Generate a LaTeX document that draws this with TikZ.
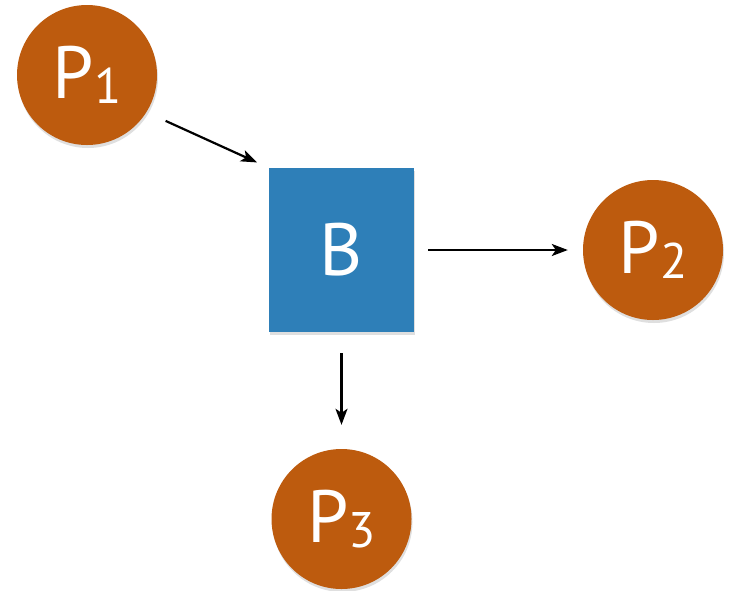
\documentclass[tikz,border=0pt]{standalone}
\usepackage{fontspec}
\setmainfont{PT Sans}
\usetikzlibrary{arrows.meta}
\usetikzlibrary{shadows}

\definecolor{procorange}{RGB}{189,91,14}
\definecolor{bufblue}{RGB}{46,127,184}
\newcommand{\psub}[1]{\raisebox{-5pt}{\fontsize{50}{50}\selectfont #1}}

\begin{document}
\begin{tikzpicture}[x=1pt, y=-1pt,
  proc/.style={circle, fill=procorange, minimum size=140pt, inner sep=0pt,
    text=white, font=\fontsize{74}{74}\selectfont,
    drop shadow={opacity=0.25, shadow xshift=1pt, shadow yshift=-3pt}},
  buffer/.style={rectangle, fill=bufblue, minimum width=145pt, minimum height=164pt,
    inner sep=0pt, text=white, font=\fontsize{74}{74}\selectfont,
    drop shadow={opacity=0.25, shadow xshift=1pt, shadow yshift=-3pt}},
  flow/.style={-{Stealth[length=16pt, width=12pt, inset=4pt]}, line width=2.2pt}]
% frame
\useasboundingbox (0,0) rectangle (730,590);

% nodes
\node[buffer] (B) at (341.5,250) {B};
\node[proc] (P1) at (87,75) {P\psub{1}};
\node[proc] (P2) at (653,250) {P\psub{2}};
\node[proc] (P3) at (341.5,519) {P\psub{3}};

% arrows
\draw[flow, shorten <=21pt, shorten >=13pt] (P1.-32) -- (B.north west);
\draw[flow, shorten <=14pt, shorten >=15pt] (B.east) -- (P2.west);
\draw[flow, shorten <=21pt, shorten >=24pt] (B.south) -- (P3.north);

\end{tikzpicture}
\end{document}
